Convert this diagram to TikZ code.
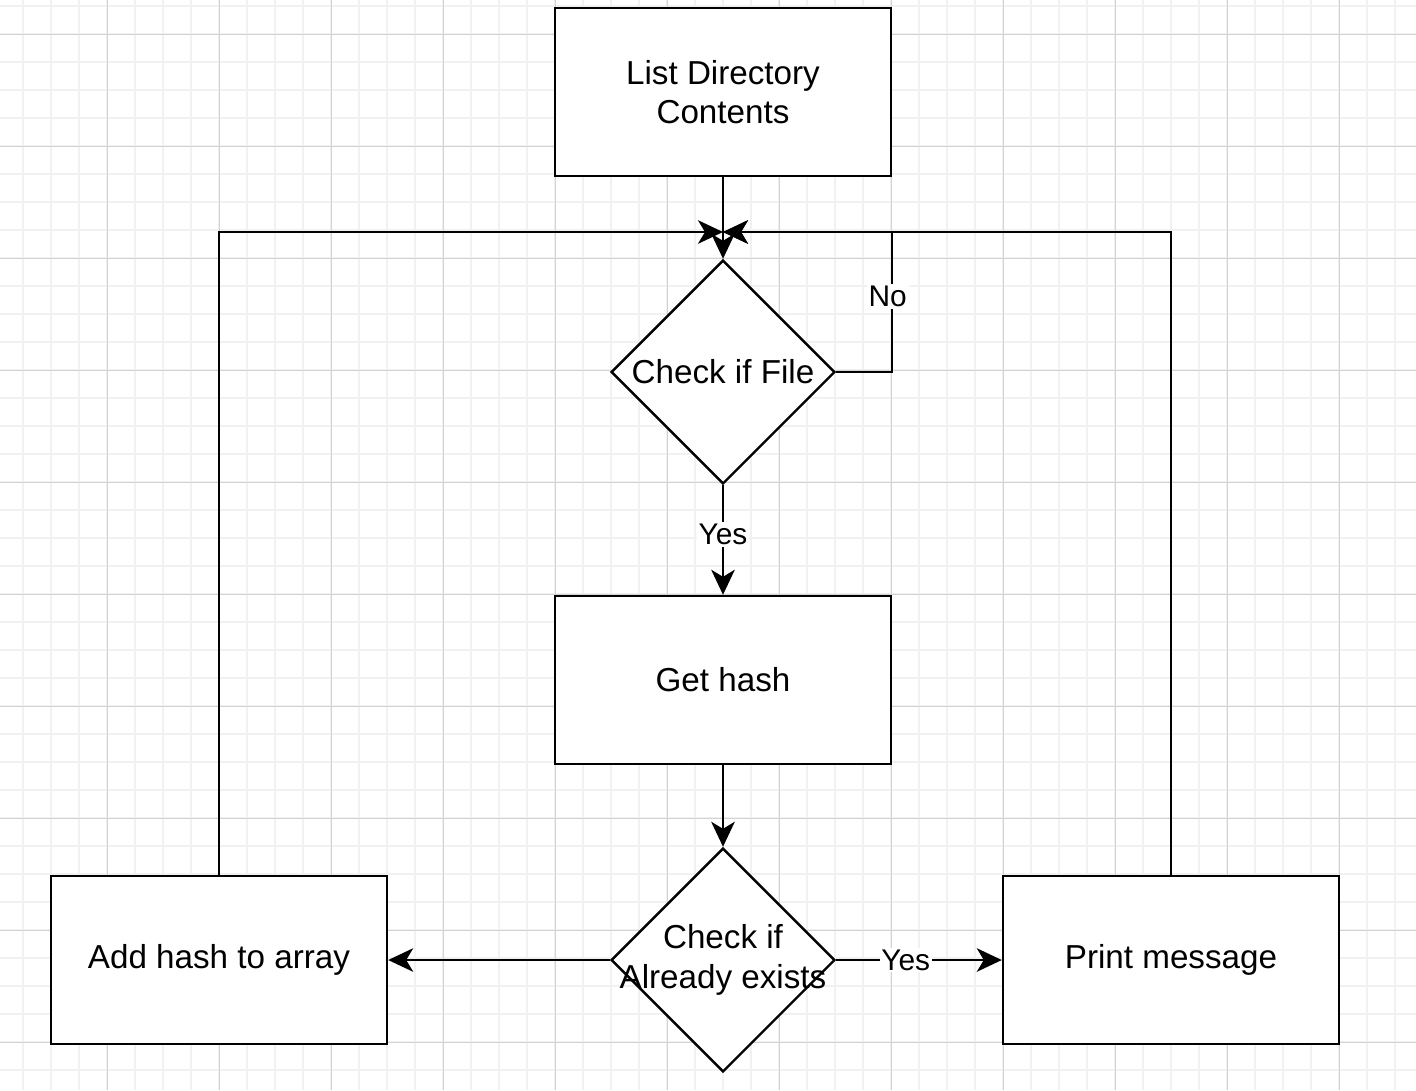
\documentclass[tikz,border=0pt]{standalone}
\usepackage{fontspec}
\setmainfont{Liberation Sans}
\usepackage{tikz}
\usetikzlibrary{arrows.meta}
\usetikzlibrary{shapes.geometric}
\usetikzlibrary{positioning}

\definecolor{gridlight}{HTML}{F1F1F1}
\definecolor{griddark}{HTML}{D2D2D2}

\tikzset{
  procbox/.style={draw=black, line width=1.4pt, fill=white, rectangle,
    minimum width=6.72cm, minimum height=3.36cm, align=center,
    font=\fontsize{18.9}{22.5}\selectfont},
  decision/.style={draw=black, line width=1.4pt, fill=white, diamond,
    minimum width=4.48cm, minimum height=4.48cm, inner sep=0pt},
  flow/.style={draw=black, line width=1.4pt,
    -{Stealth[length=0.5cm, width=0.47cm, inset=0.14cm]}},
  lbl/.style={fill=white, inner sep=1pt, font=\fontsize{17}{20}\selectfont},
  gridminor/.style={gridlight, line width=0.8pt},
  gridmajor/.style={griddark, line width=0.5pt}
}

\begin{document}
\begin{tikzpicture}[x=0.02cm, y=-0.02cm]

\useasboundingbox (0,0) rectangle (1416,1090);
\fill[white] (0,0) rectangle (1416,1090);

% grid
\foreach \k in {0,...,51}
  \draw[gridminor] ({-5+28*\k},0) -- ({-5+28*\k},1090);
\foreach \k in {0,...,38}
  \draw[gridminor] (0,{6+28*\k}) -- (1416,{6+28*\k});
\foreach \k in {1,...,12}
  \draw[gridmajor] ({-5+112*\k},0) -- ({-5+112*\k},1090);
\foreach \k in {0,...,9}
  \draw[gridmajor] (0,{34+112*\k}) -- (1416,{34+112*\k});

% boxes
\node[procbox] (lsdir) at (723,92) {List Directory\\Contents};
\node[decision, label={[font=\fontsize{18.9}{22.5}\selectfont]center:Check if File}] (isfile) at (723,372) {};
\node[procbox] (gethash) at (723,680) {Get hash};
\node[decision, label={[align=center, font=\fontsize{18.9}{22.5}\selectfont]center:Check if\\Already exists}] (exists) at (723,960) {};
\node[procbox] (addhash) at (219,960) {Add hash to array};
\node[procbox] (printmsg) at (1171,960) {Print message};

\coordinate (join) at (723,232);

% connectors
\draw[flow] (lsdir) -- (isfile);
\draw[flow] (isfile.east) -| node[lbl, pos=0.77, xshift=-0.09cm] {No} (join -| lsdir.east) -- (join);
\draw[flow] (isfile) -- node[lbl, pos=0.45] {Yes} (gethash);
\draw[flow] (gethash) -- (exists);
\draw[flow] (exists) -- (addhash);
\draw[flow] (exists) -- node[lbl, pos=0.42] {Yes} (printmsg);
\draw[flow] (addhash) |- (join);
\draw[flow] (printmsg) |- (join);

\end{tikzpicture}
\end{document}
